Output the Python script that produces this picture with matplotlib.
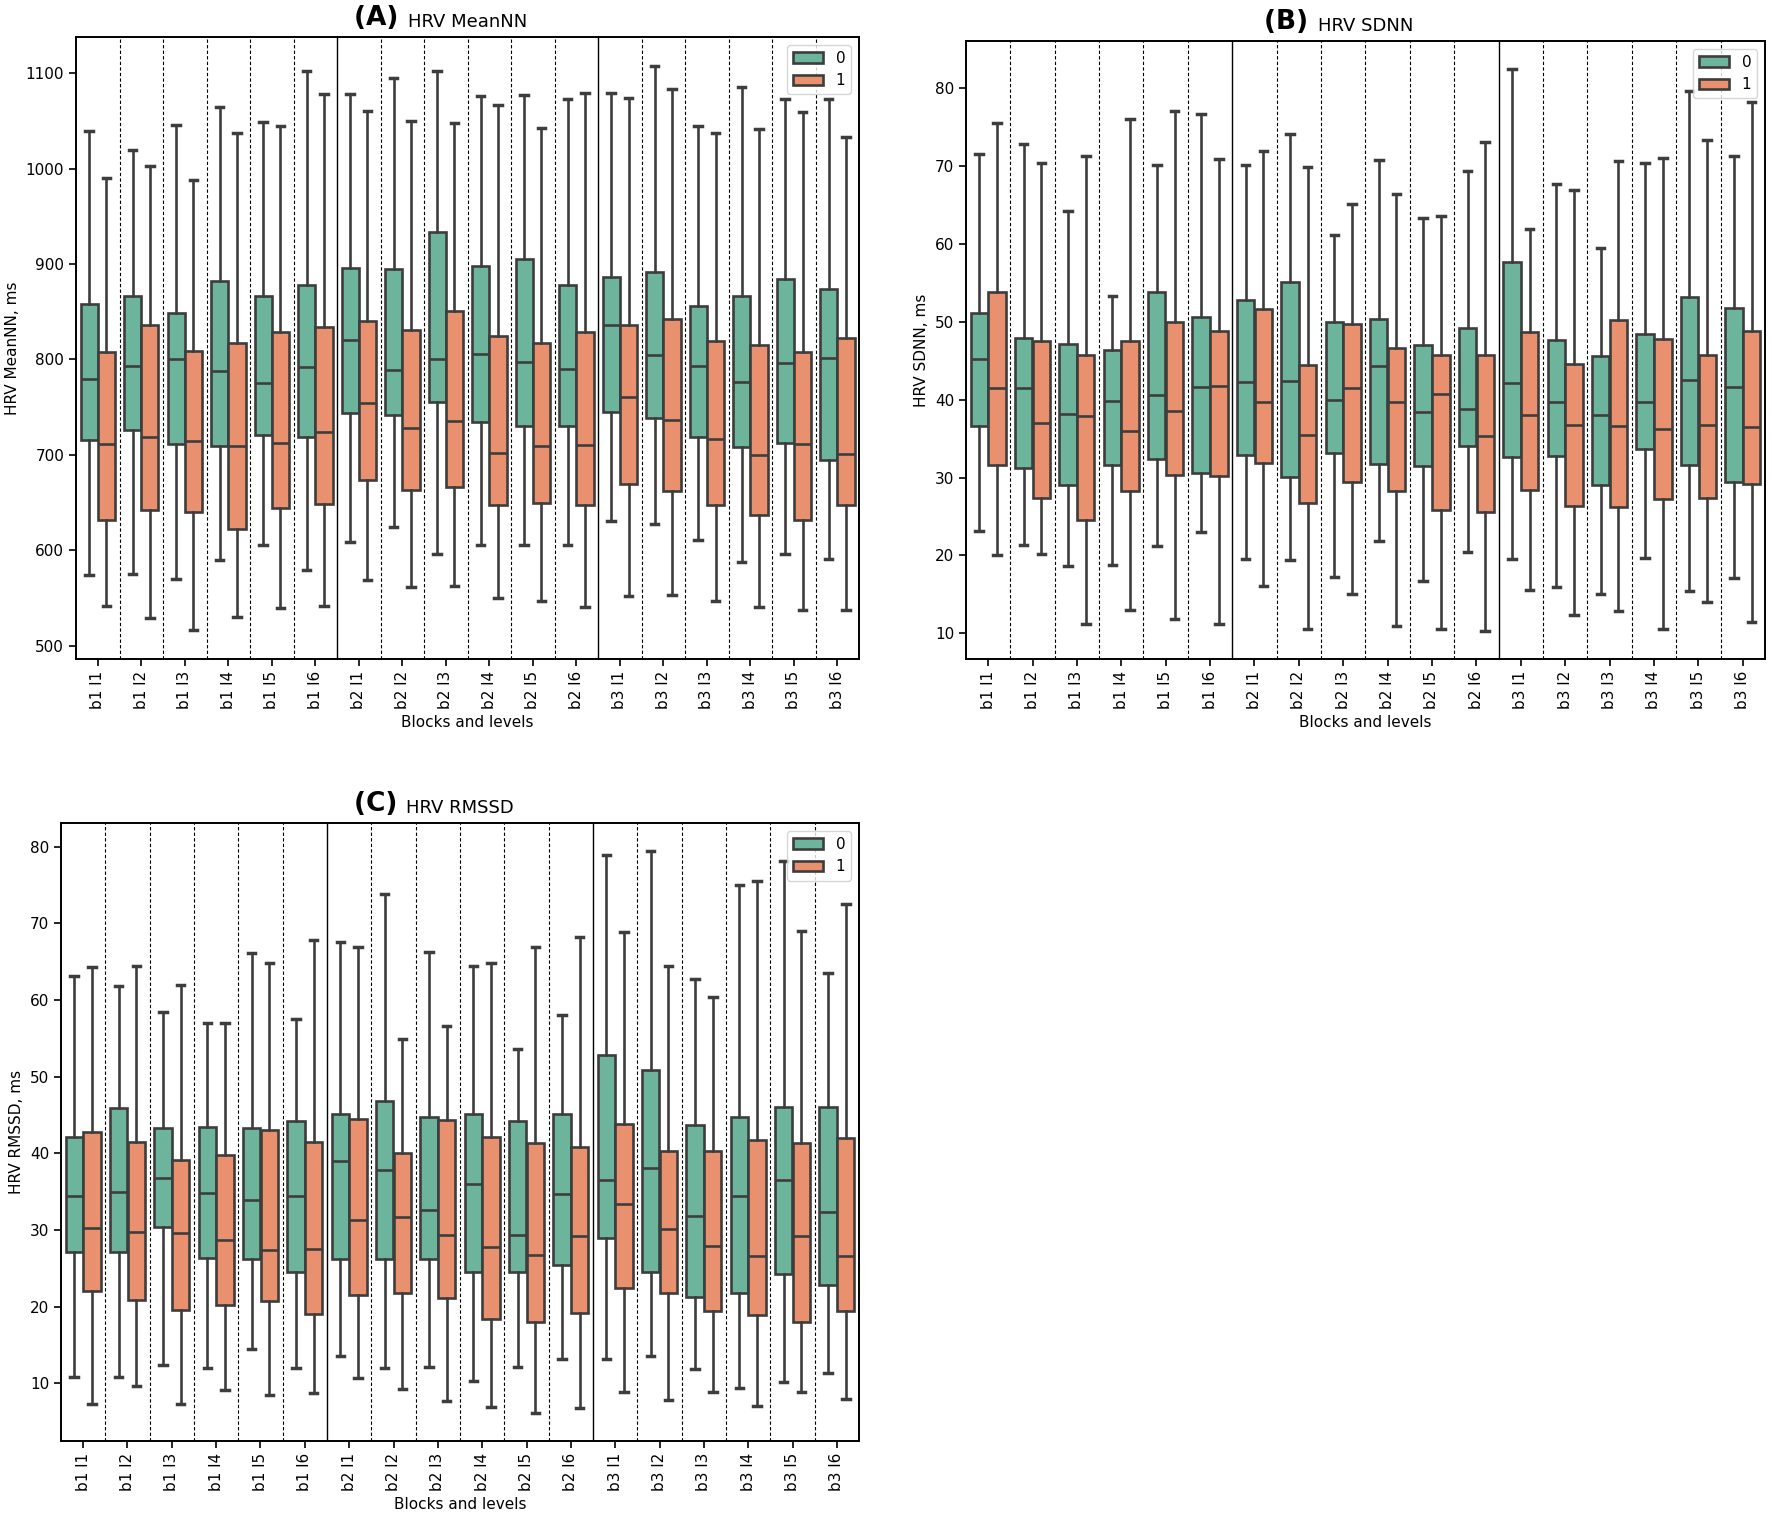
import matplotlib
matplotlib.use("Agg")
import matplotlib.pyplot as plt
import numpy as np

# ---------------- data ----------------
categories = [f"b{b} l{l}" for b in (1, 2, 3) for l in range(1, 7)]
groups = ["0", "1"]

# Panel A: HRV MeanNN
meannn_g0_lo  = [574, 575, 570, 590, 605, 579, 609, 624, 596, 605, 605, 606, 631, 627, 611, 588, 596, 591]
meannn_g0_q1  = [716, 726, 711, 709, 721, 719, 744, 742, 755, 734, 730, 730, 745, 739, 719, 708, 712, 695]
meannn_g0_med = [779, 793, 800, 788, 775, 792, 820, 789, 800, 806, 797, 790, 836, 805, 793, 776, 796, 802]
meannn_g0_q3  = [858, 867, 849, 882, 866, 878, 896, 895, 934, 898, 905, 878, 886, 892, 856, 866, 884, 874]
meannn_g0_hi  = [1039, 1020, 1046, 1065, 1049, 1102, 1078, 1095, 1102, 1076, 1077, 1073, 1079, 1108, 1045, 1086, 1073, 1073]
meannn_g1_lo  = [542, 529, 516, 530, 539, 542, 569, 562, 563, 550, 547, 540, 552, 553, 547, 540, 537, 537]
meannn_g1_q1  = [632, 642, 640, 622, 644, 648, 674, 663, 666, 647, 650, 647, 669, 662, 647, 637, 632, 647]
meannn_g1_med = [711, 719, 715, 709, 712, 724, 754, 728, 736, 702, 709, 710, 761, 737, 717, 700, 711, 701]
meannn_g1_q3  = [808, 836, 809, 817, 829, 834, 840, 831, 851, 825, 817, 829, 836, 842, 819, 815, 808, 823]
meannn_g1_hi  = [990, 1003, 988, 1037, 1045, 1078, 1060, 1050, 1048, 1067, 1043, 1079, 1074, 1083, 1037, 1042, 1059, 1033]

# Panel B: HRV SDNN
sdnn_g0_lo  = [23.2, 21.4, 18.7, 18.8, 21.2, 23.0, 19.5, 19.4, 17.2, 21.8, 16.7, 20.4, 19.5, 16.0, 15.0, 19.7, 15.4, 17.1]
sdnn_g0_q1  = [36.6, 31.2, 29.0, 31.6, 32.4, 30.6, 32.9, 30.1, 33.2, 31.7, 31.5, 34.0, 32.7, 32.8, 29.0, 33.7, 31.6, 29.5]
sdnn_g0_med = [45.2, 41.5, 38.2, 39.9, 40.6, 41.6, 42.3, 42.4, 40.0, 44.4, 38.4, 38.8, 42.1, 39.7, 38.0, 39.7, 42.5, 41.6]
sdnn_g0_q3  = [51.1, 47.9, 47.2, 46.4, 53.9, 50.6, 52.8, 55.1, 50.0, 50.4, 47.1, 49.2, 57.7, 47.7, 45.6, 48.5, 53.2, 51.8]
sdnn_g0_hi  = [71.6, 72.9, 64.2, 53.3, 70.2, 76.7, 70.2, 74.2, 61.2, 70.8, 63.4, 69.4, 82.5, 67.7, 59.5, 70.4, 79.7, 71.3]
sdnn_g1_lo  = [20.1, 20.2, 11.2, 13.0, 11.9, 11.2, 16.1, 10.6, 15.1, 10.9, 10.6, 10.3, 15.6, 12.3, 12.9, 10.6, 14.0, 11.4]
sdnn_g1_q1  = [31.6, 27.4, 24.5, 28.3, 30.3, 30.2, 31.9, 26.7, 29.4, 28.3, 25.9, 25.6, 28.4, 26.3, 26.2, 27.2, 27.4, 29.2]
sdnn_g1_med = [41.5, 37.0, 37.9, 36.0, 38.5, 41.8, 39.7, 35.5, 41.5, 39.7, 40.7, 35.4, 38.1, 36.8, 36.6, 36.2, 36.7, 36.5]
sdnn_g1_q3  = [53.8, 47.6, 45.8, 47.6, 50.0, 48.8, 51.7, 44.5, 49.8, 46.6, 45.7, 45.8, 48.7, 44.6, 50.3, 47.8, 45.8, 48.8]
sdnn_g1_hi  = [75.5, 70.4, 71.3, 76.1, 77.1, 70.9, 71.9, 69.9, 65.2, 66.5, 63.6, 73.1, 62.0, 67.0, 70.7, 71.0, 73.4, 78.3]

# Panel C: HRV RMSSD
rmssd_g0_lo  = [10.8, 10.9, 12.4, 12.0, 14.5, 12.0, 13.6, 12.0, 12.1, 10.3, 12.1, 13.2, 13.2, 13.6, 11.9, 9.4, 10.2, 11.3]
rmssd_g0_q1  = [27.2, 27.2, 30.4, 26.3, 26.2, 24.5, 26.2, 26.2, 26.2, 24.5, 24.6, 25.4, 29.0, 24.5, 21.3, 21.8, 24.3, 22.8]
rmssd_g0_med = [34.4, 35.0, 36.8, 34.8, 33.9, 34.5, 39.0, 37.9, 32.6, 36.0, 29.4, 34.7, 36.6, 38.1, 31.8, 34.4, 36.5, 32.4]
rmssd_g0_q3  = [42.2, 45.9, 43.3, 43.5, 43.3, 44.2, 45.2, 46.9, 44.7, 45.2, 44.2, 45.2, 52.9, 50.9, 43.7, 44.7, 46.0, 46.0]
rmssd_g0_hi  = [63.1, 61.9, 58.5, 57.0, 66.1, 57.6, 67.6, 73.9, 66.3, 64.4, 53.6, 58.0, 78.9, 79.4, 62.8, 75.0, 78.1, 63.6]
rmssd_g1_lo  = [7.3, 9.7, 7.3, 9.2, 8.5, 8.7, 10.7, 9.3, 7.7, 6.9, 6.2, 6.8, 8.9, 7.9, 8.9, 7.1, 8.9, 8.0]
rmssd_g1_q1  = [22.1, 20.9, 19.6, 20.2, 20.7, 19.1, 21.5, 21.8, 21.2, 18.4, 18.0, 19.2, 22.5, 21.8, 19.4, 18.9, 18.0, 19.4]
rmssd_g1_med = [30.3, 29.7, 29.6, 28.7, 27.4, 27.5, 31.3, 31.7, 29.3, 27.8, 26.8, 29.2, 33.4, 30.1, 27.9, 26.6, 29.2, 26.6]
rmssd_g1_q3  = [42.8, 41.5, 39.2, 39.8, 43.1, 41.5, 44.5, 40.0, 44.4, 42.2, 41.4, 40.8, 43.9, 40.3, 40.3, 41.8, 41.3, 42.0]
rmssd_g1_hi  = [64.3, 64.5, 62.0, 57.0, 64.8, 67.8, 66.9, 54.9, 56.6, 64.8, 66.9, 68.2, 68.9, 64.5, 60.4, 75.6, 69.0, 72.5]

# ---------------- style ----------------
COLORS = ["#6cb59c", "#e9916e"]
EDGE = "#3d3d3d"
LW = 1.9

fig = plt.figure(figsize=(17.72, 15.16), dpi=100)
plt.rcParams["font.family"] = ["DejaVu Sans"]


def panel(rect, letter, title, ylabel, stats, ylim, yticks):
    ax = fig.add_axes(rect)
    n = len(categories)
    x = np.arange(n)
    for gi in range(2):
        lo, q1, med, q3, hi = stats[gi]
        bstats = [dict(whislo=lo[i], q1=q1[i], med=med[i], q3=q3[i], whishi=hi[i], fliers=[])
                  for i in range(n)]
        pos = x + (-0.2 if gi == 0 else 0.2)
        ax.bxp(bstats, positions=pos, widths=0.392, patch_artist=True, showfliers=False,
               capwidths=0.17, manage_ticks=False,
               boxprops=dict(facecolor=COLORS[gi], edgecolor=EDGE, linewidth=LW),
               medianprops=dict(color=EDGE, linewidth=LW),
               whiskerprops=dict(color=EDGE, linewidth=LW),
               capprops=dict(color=EDGE, linewidth=LW + 0.6))
    for k in range(1, n):
        if k % 6 == 0:
            ax.axvline(k - 0.5, color="black", linewidth=1.0, zorder=0)
        else:
            ax.axvline(k - 0.5, color="black", linewidth=0.8, linestyle=(0, (3, 2)), zorder=0)
    ax.set_xlim(-0.5, n - 0.5)
    ax.set_ylim(*ylim)
    ax.set_yticks(yticks)
    ax.set_xticks(x)
    ax.set_xticklabels(categories, rotation=90, fontsize=11)
    ax.tick_params(axis="y", labelsize=11)
    ax.tick_params(length=5, width=1.2)
    for s in ax.spines.values():
        s.set_linewidth(1.4)
    ax.set_xlabel("Blocks and levels", fontsize=11)
    ax.set_ylabel(ylabel, fontsize=11)
    t = ax.set_title(title, fontsize=13, pad=7)
    ax.annotate(letter + " ", xy=(0, 0), xycoords=t, ha="right", va="bottom",
                fontsize=19, fontweight="bold")
    handles = [plt.Rectangle((0, 0), 1, 1, facecolor=COLORS[i], edgecolor=EDGE, linewidth=LW)
               for i in range(2)]
    ax.legend(handles, groups, loc="upper right", fontsize=11, handlelength=2.0)
    return ax


statsA = [(meannn_g0_lo, meannn_g0_q1, meannn_g0_med, meannn_g0_q3, meannn_g0_hi),
          (meannn_g1_lo, meannn_g1_q1, meannn_g1_med, meannn_g1_q3, meannn_g1_hi)]
statsB = [(sdnn_g0_lo, sdnn_g0_q1, sdnn_g0_med, sdnn_g0_q3, sdnn_g0_hi),
          (sdnn_g1_lo, sdnn_g1_q1, sdnn_g1_med, sdnn_g1_q3, sdnn_g1_hi)]
statsC = [(rmssd_g0_lo, rmssd_g0_q1, rmssd_g0_med, rmssd_g0_q3, rmssd_g0_hi),
          (rmssd_g1_lo, rmssd_g1_q1, rmssd_g1_med, rmssd_g1_q3, rmssd_g1_hi)]

panel([0.0429, 0.5653, 0.4419, 0.4103], "(A)", "HRV MeanNN", "HRV MeanNN, ms",
      statsA, (486, 1138), [500, 600, 700, 800, 900, 1000, 1100])
panel([0.5451, 0.5653, 0.4509, 0.4077], "(B)", "HRV SDNN", "HRV SDNN, ms",
      statsB, (6.7, 86.1), [10, 20, 30, 40, 50, 60, 70, 80])
panel([0.0344, 0.0495, 0.4504, 0.4076], "(C)", "HRV RMSSD", "HRV RMSSD, ms",
      statsC, (2.5, 83.1), [10, 20, 30, 40, 50, 60, 70, 80])

fig.savefig("out.png", dpi=100)
